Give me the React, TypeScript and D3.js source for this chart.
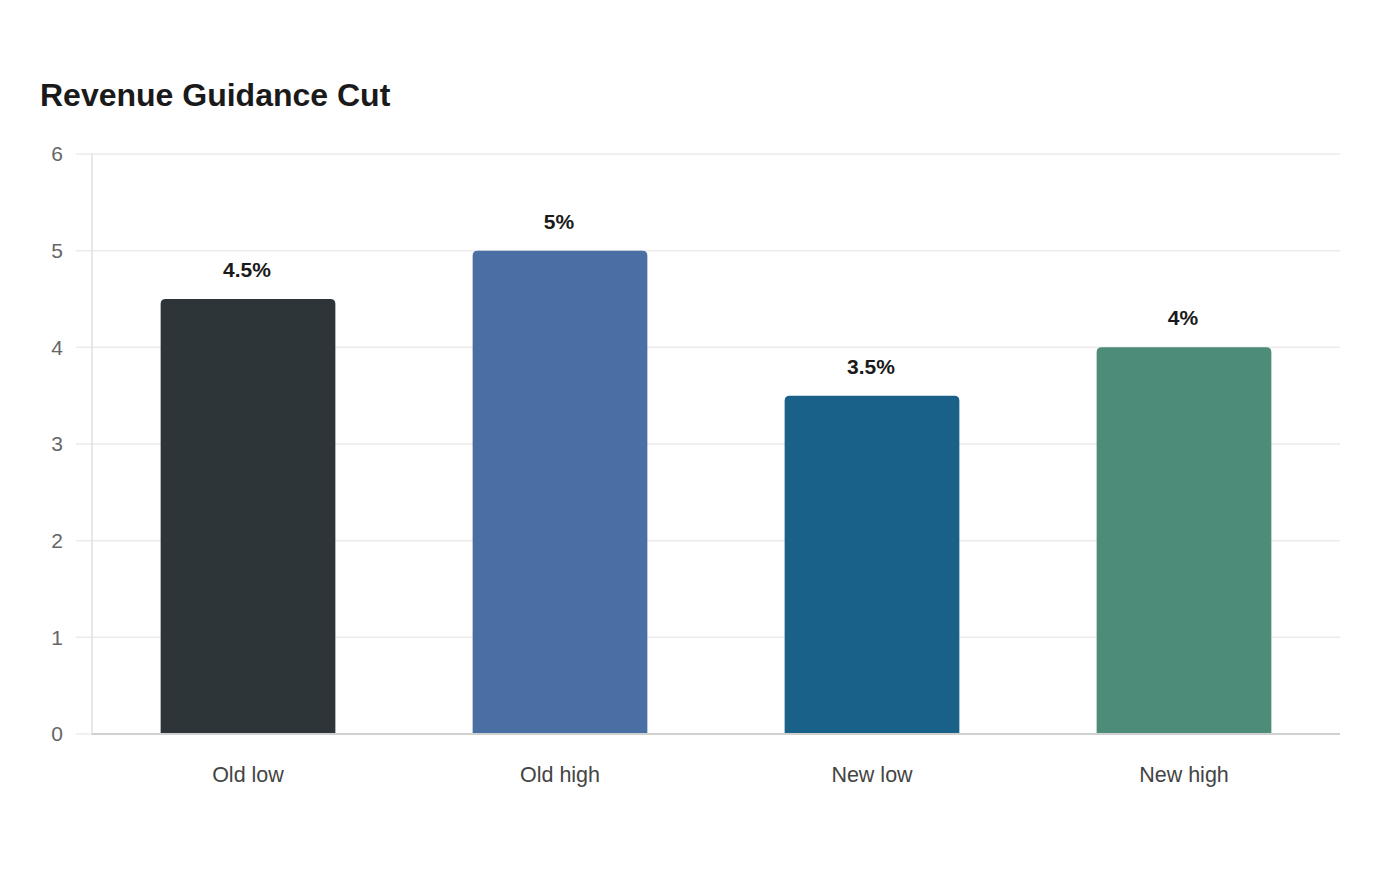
import React, { useEffect, useRef } from "react";
import * as d3 from "d3";

const categories = ["Old low", "Old high", "New low", "New high"];
const values = [4.5, 5, 3.5, 4];
const colors = ["#2e3538", "#4a6fa4", "#1a6189", "#4e8c7a"];
const yTicks = [0, 1, 2, 3, 4, 5, 6];

const App: React.FC = () => {
  const ref = useRef<SVGSVGElement>(null);

  useEffect(() => {
    if (!ref.current) return;
    const svg = d3.select(ref.current);
    svg.selectAll("*").remove();

    const margin = { top: 154, right: 60, bottom: 146, left: 92 };
    const width = 1400 - margin.left - margin.right;
    const height = 880 - margin.top - margin.bottom;
    const font = "'Liberation Sans', Arial, sans-serif";

    svg
      .append("text")
      .attr("x", 40)
      .attr("y", 106)
      .attr("font-family", font)
      .attr("font-size", 32)
      .attr("font-weight", "bold")
      .attr("fill", "#1a1a1a")
      .text("Revenue Guidance Cut");

    const g = svg.append("g").attr("transform", `translate(${margin.left},${margin.top})`);

    const x = d3.scaleBand().domain(categories).range([0, width]).paddingInner(0.44).paddingOuter(0.22);
    const y = d3.scaleLinear().domain([0, 6]).range([height, 0]);

    // Grid
    g.append("g")
      .selectAll("line")
      .data(yTicks)
      .join("line")
      .attr("x1", -16)
      .attr("x2", width)
      .attr("y1", (d) => y(d))
      .attr("y2", (d) => y(d))
      .attr("stroke", "#ebebeb")
      .attr("stroke-width", 1.5);

    // Y axis line
    g.append("line")
      .attr("x1", 0)
      .attr("x2", 0)
      .attr("y1", 0)
      .attr("y2", height)
      .attr("stroke", "#e0e0e0")
      .attr("stroke-width", 1.5);

    // Y tick labels
    g.append("g")
      .selectAll("text")
      .data(yTicks)
      .join("text")
      .attr("x", -29)
      .attr("y", (d) => y(d))
      .attr("dy", "0.35em")
      .attr("text-anchor", "end")
      .attr("font-family", font)
      .attr("font-size", 21)
      .attr("fill", "#666")
      .text((d) => d);

    // Bars with rounded top corners
    const r = 5;
    g.append("g")
      .selectAll("path")
      .data(values)
      .join("path")
      .attr("fill", (_, i) => colors[i])
      .attr("d", (d, i) => {
        const x0 = x(categories[i]) as number;
        const w = x.bandwidth();
        const y0 = y(d);
        const yb = y(0);
        return `M${x0},${yb}V${y0 + r}Q${x0},${y0} ${x0 + r},${y0}H${x0 + w - r}Q${x0 + w},${y0} ${x0 + w},${y0 + r}V${yb}Z`;
      });

    // Baseline
    g.append("line")
      .attr("x1", 0)
      .attr("x2", width)
      .attr("y1", height)
      .attr("y2", height)
      .attr("stroke", "#d0d0d0")
      .attr("stroke-width", 2);

    // Value labels
    g.append("g")
      .selectAll("text")
      .data(values)
      .join("text")
      .attr("x", (_, i) => (x(categories[i]) as number) + x.bandwidth() / 2 - 1)
      .attr("y", (d) => y(d) - 22)
      .attr("text-anchor", "middle")
      .attr("font-family", font)
      .attr("font-size", 21)
      .attr("font-weight", "bold")
      .attr("fill", "#1a1a1a")
      .text((d) => `${d}%`);

    // Category labels
    g.append("g")
      .selectAll("text")
      .data(categories)
      .join("text")
      .attr("x", (d) => (x(d) as number) + x.bandwidth() / 2)
      .attr("y", height + 48)
      .attr("text-anchor", "middle")
      .attr("font-family", font)
      .attr("font-size", 21.5)
      .attr("fill", "#444")
      .text((d) => d);
  }, []);

  return (
    <div style={{ margin: -8 }}>
      <svg ref={ref} width={1400} height={880} style={{ display: "block", background: "#fff" }} />
    </div>
  );
};

export default App;
